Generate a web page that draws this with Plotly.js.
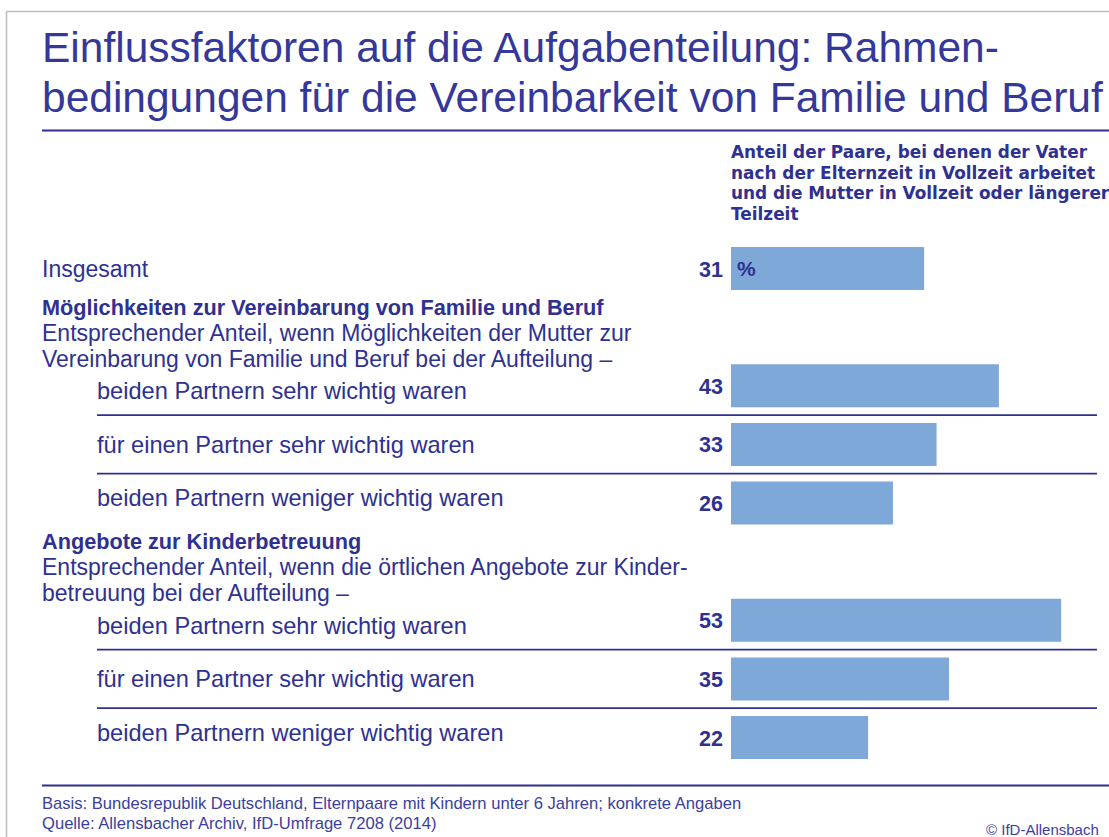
<!DOCTYPE html>
<html>
<head>
<meta charset="utf-8">
<script src="https://cdn.plot.ly/plotly-3.0.1.min.js"></script>
<style>html,body{margin:0;padding:0;background:#fff;}#chart{width:1109px;height:837px;}</style>
</head>
<body>
<div id="chart"></div>
<script>
// ---- data ----
const titleLines = ["Einflussfaktoren auf die Aufgabenteilung: Rahmen-",
                    "bedingungen für die Vereinbarkeit von Familie und Beruf"];
const headerLines = ["Anteil der Paare, bei denen der Vater",
                     "nach der Elternzeit in Vollzeit arbeitet",
                     "und die Mutter in Vollzeit oder längerer",
                     "Teilzeit"];
const totalLabel = "Insgesamt";
const totalValue = 31;
const unitLabel = "%";
const groupTitles = ["Möglichkeiten zur Vereinbarung von Familie und Beruf",
                     "Angebote zur Kinderbetreuung"];
const groupNotes = [["Entsprechender Anteil, wenn Möglichkeiten der Mutter zur",
                     "Vereinbarung von Familie und Beruf bei der Aufteilung –"],
                    ["Entsprechender Anteil, wenn die örtlichen Angebote zur Kinder-",
                     "betreuung bei der Aufteilung –"]];
const rowLabels = ["beiden Partnern sehr wichtig waren",
                   "für einen Partner sehr wichtig waren",
                   "beiden Partnern weniger wichtig waren"];
const valuesFamilieBeruf = [43, 33, 26];
const valuesKinderbetreuung = [53, 35, 22];
const footerLines = ["Basis: Bundesrepublik Deutschland, Elternpaare mit Kindern unter 6 Jahren; konkrete Angaben",
                     "Quelle: Allensbacher Archiv, IfD-Umfrage 7208 (2014)"];
const copyright = "© IfD-Allensbach";

// ---- build ----
const W = 1109, H = 837;
const px = x => x / W;
const py = y => 1 - y / H;
const FONT = "Liberation Sans, Arial, sans-serif";
const HFONT = "DejaVu Sans, Liberation Sans, sans-serif";
const BLUE = "#2e3192";
const BAR = "#7ea8d8";
const groupValues = [valuesFamilieBeruf, valuesKinderbetreuung];

const ys = [0], xs = [totalValue];
const annotations = [];
const shapes = [];
const txt = (o) => Object.assign({showarrow:false, font:{family:FONT, size:23, color:BLUE}}, o);

// title
titleLines.forEach((t, i) => annotations.push(txt({
  text: t, xref:'paper', yref:'paper', x: px(40), y: py(48 + i*49.5),
  xanchor:'left', yanchor:'middle', font:{family:FONT, size:42.5, color:"#34389a"}
})));
// column header
headerLines.forEach((t, i) => annotations.push(txt({
  text: t, xref:'paper', yref:'paper', x: px(729), y: py(152 + i*20.6),
  xanchor:'left', yanchor:'middle', font:{family:HFONT, size:16.9, color:BLUE, weight:'bold'}
})));
// total row
annotations.push(txt({text: totalLabel, xref:'paper', yref:'y', x: px(40), y: 0,
  xanchor:'left', yanchor:'middle'}));
annotations.push(txt({text: unitLabel, xref:'x', yref:'y', x: 0, y: 0, xshift: 4,
  xanchor:'left', yanchor:'middle', font:{family:FONT, size:21, color:BLUE, weight:'bold'}}));

let slot = 1;
const rowShift = [-5.5, -0.5, 5];
groupTitles.forEach((g, gi) => {
  const hs = slot;
  annotations.push(txt({text: g, xref:'paper', yref:'y', x: px(40), y: hs, yshift: 20,
    xanchor:'left', yanchor:'middle', font:{family:FONT, size:21.7, color:BLUE, weight:'bold'}}));
  groupNotes[gi].forEach((n, ni) => annotations.push(txt({text: n, xref:'paper', yref:'y',
    x: px(40), y: hs, yshift: -5.5 - ni*26, xanchor:'left', yanchor:'middle'})));
  groupValues[gi].forEach((v, i) => {
    const s = hs + 1 + i;
    ys.push(s); xs.push(v);
    annotations.push(txt({text: rowLabels[i], xref:'paper', yref:'y', x: px(95), y: s,
      yshift: rowShift[i], xanchor:'left', yanchor:'middle',
      font:{family:FONT, size:23.6, color:BLUE}}));
    if (i < groupValues[gi].length - 1) {
      shapes.push({type:'line', xref:'paper', yref:'y', x0: px(97), x1: px(1097),
        y0: s + 0.5, y1: s + 0.5, line:{color:BLUE, width:1.8}});
    }
  });
  slot = hs + 1 + groupValues[gi].length;
});

// value labels
ys.forEach((s, i) => annotations.push(txt({text: String(xs[i]), xref:'x', yref:'y', x: 0, y: s,
  xshift: -6, yshift: -1, xanchor:'right', yanchor:'middle',
  font:{family:FONT, size:21.5, color:BLUE, weight:'bold'}})));

// footer
footerLines.forEach((t, i) => annotations.push(txt({text: t, xref:'paper', yref:'paper',
  x: px(40), y: py(803 + i*20.5), xanchor:'left', yanchor:'middle',
  font:{family:FONT, size:16.6, color:"#3a3e9e"}})));
annotations.push(txt({text: copyright, xref:'paper', yref:'paper', x: px(1101), y: py(829),
  xanchor:'right', yanchor:'middle', font:{family:FONT, size:15, color:"#3a3e9e"}}));

// frame and rules
shapes.push({type:'line', xref:'paper', yref:'paper', x0: px(6.5), x1: 1, y0: py(11.5), y1: py(11.5), line:{color:"#bdbdbd", width:1.5}});
shapes.push({type:'line', xref:'paper', yref:'paper', x0: px(6.5), x1: px(6.5), y0: 0, y1: py(11.5), line:{color:"#bdbdbd", width:1.5}});
shapes.push({type:'line', xref:'paper', yref:'paper', x0: px(42), x1: 1, y0: py(130.5), y1: py(130.5), line:{color:BLUE, width:2}});
shapes.push({type:'line', xref:'paper', yref:'paper', x0: px(42), x1: 1, y0: py(785.5), y1: py(785.5), line:{color:BLUE, width:2}});

const trace = {type:'bar', orientation:'h', x: xs, y: ys, width: 43/58.625,
  marker:{color:BAR, line:{width:0}}, hoverinfo:'skip', showlegend:false};

const layout = {
  width: W, height: H, margin:{l:0, r:0, t:0, b:0, pad:0},
  paper_bgcolor:'#fff', plot_bgcolor:'rgba(0,0,0,0)', showlegend:false,
  xaxis:{domain:[px(731), px(731 + 60*6.23)], range:[0, 60], visible:false, fixedrange:true},
  yaxis:{domain:[py(796.125), py(209.875)], range:[9, -1], visible:false, fixedrange:true},
  annotations, shapes
};
Plotly.newPlot('chart', [trace], layout, {displayModeBar:false, staticPlot:true});
</script>
</body>
</html>
